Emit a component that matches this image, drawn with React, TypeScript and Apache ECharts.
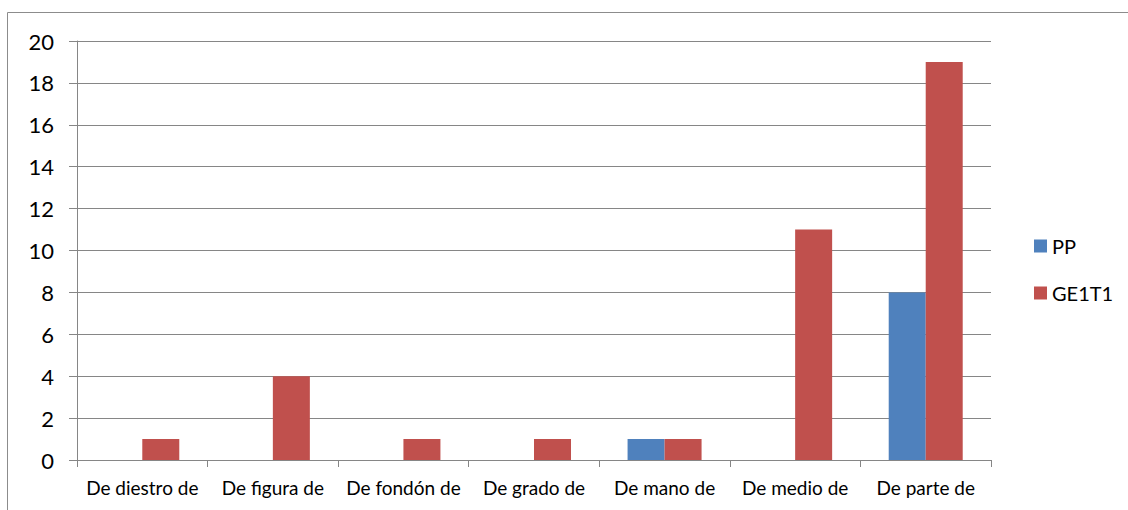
import React, { useEffect, useRef } from "react";
import * as echarts from "echarts";

const categories = [
  "De diestro de",
  "De figura de",
  "De fondón de",
  "De grado de",
  "De mano de",
  "De medio de",
  "De parte de",
];
const ppValues = [0, 0, 0, 0, 1, 0, 8];
const ge1t1Values = [1, 4, 1, 1, 1, 11, 19];
const seriesNames = ["PP", "GE1T1"];

export default function App() {
  const ref = useRef<HTMLDivElement>(null);
  useEffect(() => {
    if (!ref.current) return;
    const chart = echarts.init(ref.current, undefined, { renderer: "svg" });
    const axisGray = "#868686";
    chart.setOption({
      animation: false,
      backgroundColor: "#ffffff",
      textStyle: { fontFamily: "Lato", color: "#000" },
      graphic: [
        {
          type: "rect",
          shape: { x: 7.5, y: 12.5, width: 1300, height: 700 },
          style: { fill: "none", stroke: "#8c8c8c", lineWidth: 1 },
          silent: true,
        },
      ],
      grid: { left: 77, right: 137, top: 41, bottom: 50, containLabel: false },
      legend: {
        orient: "vertical",
        left: 1029,
        top: 231,
        itemWidth: 13,
        itemHeight: 13,
        itemGap: 27,
        icon: "rect",
        textStyle: { fontFamily: "Lato", fontSize: 20, color: "#000" },
        data: seriesNames,
      },
      xAxis: {
        type: "category",
        data: categories,
        axisLine: { show: true, lineStyle: { color: axisGray, width: 1 } },
        axisTick: { show: true, length: 7, lineStyle: { color: axisGray } },
        axisLabel: { fontFamily: "Lato", fontSize: 19, color: "#000", margin: 18, interval: 0 },
      },
      yAxis: {
        type: "value",
        min: 0,
        max: 20,
        interval: 2,
        axisLine: { show: true, lineStyle: { color: axisGray, width: 1 } },
        axisTick: { show: true, length: 8, lineStyle: { color: axisGray } },
        splitLine: { show: true, lineStyle: { color: axisGray, width: 1 } },
        axisLabel: { fontFamily: "Lato", fontSize: 22, color: "#000", margin: 23 },
      },
      series: [
        {
          name: seriesNames[0],
          type: "bar",
          data: ppValues,
          barWidth: 37,
          barGap: "0%",
          itemStyle: { color: "#4F81BD" },
        },
        {
          name: seriesNames[1],
          type: "bar",
          data: ge1t1Values,
          barWidth: 37,
          barGap: "0%",
          itemStyle: { color: "#C0504D" },
        },
      ],
    });
    return () => chart.dispose();
  }, []);
  return (
    <div
      ref={ref}
      style={{ position: "fixed", left: 0, top: 0, width: 1128, height: 510 }}
    />
  );
}
